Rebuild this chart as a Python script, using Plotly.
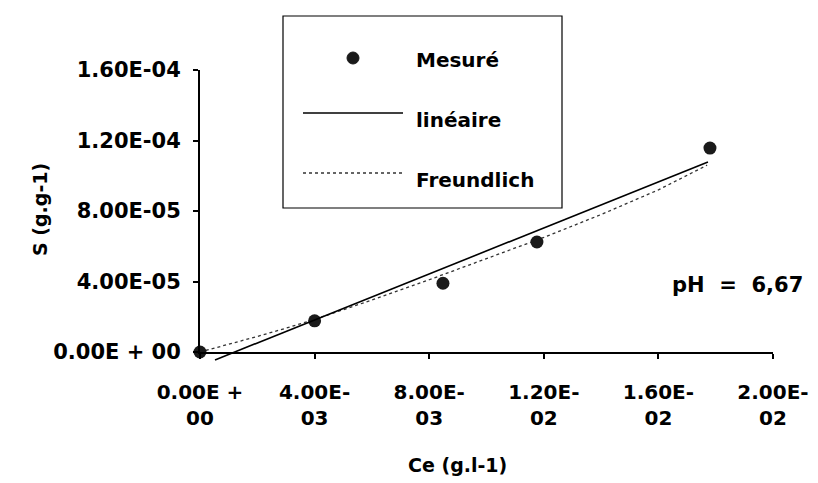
import plotly.graph_objects as go

# Points mesurés
ce_mesure = [0.0, 0.0040, 0.00848, 0.01176, 0.0178]
s_mesure = [0.0, 1.77e-05, 3.9e-05, 6.24e-05, 1.157e-04]

# Droite linéaire (extrémités)
ce_lin = [0.000524, 0.01773]
s_lin = [-4.5e-06, 1.078e-04]

# Courbe de Freundlich
ce_freund = [0.0, 0.001, 0.002, 0.003, 0.004, 0.006, 0.008, 0.010, 0.012, 0.014, 0.016, 0.0177]
s_freund = [0.0, 4.2e-06, 8.8e-06, 1.35e-05, 1.85e-05, 2.95e-05, 4.1e-05, 5.3e-05, 6.5e-05, 7.8e-05, 9.2e-05, 1.06e-04]

x_ticks = [0.0, 0.004, 0.008, 0.012, 0.016, 0.020]
x_labels = ["0.00E +<br>00", "4.00E-<br>03", "8.00E-<br>03", "1.20E-<br>02", "1.60E-<br>02", "2.00E-<br>02"]
y_ticks = [0.0, 4e-05, 8e-05, 1.2e-04, 1.6e-04]
y_labels = ["0.00E + 00", "4.00E-05", "8.00E-05", "1.20E-04", "1.60E-04"]

W, H = 818, 483
OFF = 8  # marge du <body> de la page
# zone de tracé en coordonnées écran
SX0, SX1, SY0, SY1 = 200, 773, 70, 352
EXTRA = 15  # pixels sous l'axe des x pour la droite linéaire
L, T = SX0 - OFF, SY0 - OFF
R = W - (SX1 - OFF)
B = H - (SY1 + EXTRA - OFF)
PW, PH = W - L - R, H - T - B
Y_MAX = 1.6e-04

FONT = "DejaVu Sans"


def px(x):
    return (x - SX0) / PW


def py(y):
    return (SY1 + EXTRA - y) / PH


fig = go.Figure()

fig.add_trace(go.Scatter(
    x=ce_lin, y=s_lin, xaxis="x", yaxis="y2",
    mode="lines", line=dict(color="black", width=1.6), name="linéaire"
))
fig.add_trace(go.Scatter(
    x=ce_freund, y=s_freund, mode="lines",
    line=dict(color="#333", width=1.3, dash="dot"), name="Freundlich"
))
fig.add_trace(go.Scatter(
    x=ce_mesure, y=s_mesure, mode="markers", cliponaxis=False,
    marker=dict(color="#1a1a1a", size=13), name="Mesuré"
))

fig.update_layout(
    template="none",
    width=W, height=H,
    margin=dict(l=L, r=R, t=T, b=B),
    paper_bgcolor="white", plot_bgcolor="rgba(0,0,0,0)",
    showlegend=False,
    xaxis=dict(
        range=[0, 0.02], tickvals=x_ticks, ticktext=x_labels, automargin=False,
        showgrid=False, zeroline=False, showline=True, linecolor="black", linewidth=2,
        ticks="outside", ticklen=5, tickwidth=2, tickcolor="black",
        tickfont=dict(family=FONT, size=20, color="black", weight="bold"),
        ticklabelstandoff=16, anchor="y"
    ),
    yaxis=dict(
        range=[0, Y_MAX], domain=[EXTRA / PH, 1], tickvals=y_ticks, ticktext=y_labels,
        automargin=False,
        showgrid=False, zeroline=False, showline=True, linecolor="black", linewidth=2,
        ticks="outside", ticklen=5, tickwidth=2, tickcolor="black",
        tickfont=dict(family=FONT, size=21, color="black", weight="bold"),
        ticklabelstandoff=8
    ),
    yaxis2=dict(
        range=[-Y_MAX * EXTRA / (PH - EXTRA), Y_MAX], domain=[0, 1],
        visible=False, anchor="x", automargin=False
    ),
)

# Légende dessinée dans un cadre
fig.add_shape(type="rect", xref="paper", yref="paper",
              x0=px(283), x1=px(562), y0=py(208), y1=py(16),
              line=dict(color="black", width=1.2), fillcolor="white", layer="above")
fig.add_shape(type="circle", xref="paper", yref="paper",
              x0=px(347), x1=px(359), y0=py(64), y1=py(52),
              line=dict(color="#1a1a1a", width=1), fillcolor="#1a1a1a", layer="above")
fig.add_shape(type="line", xref="paper", yref="paper",
              x0=px(303), x1=px(403), y0=py(113), y1=py(113),
              line=dict(color="black", width=1.6), layer="above")
fig.add_shape(type="line", xref="paper", yref="paper",
              x0=px(303), x1=px(403), y0=py(173), y1=py(173),
              line=dict(color="#333", width=1.3, dash="dot"), layer="above")

legend_text = ["Mesuré", "linéaire", "Freundlich"]
legend_y = [60, 120, 180]
for txt, yy in zip(legend_text, legend_y):
    fig.add_annotation(text="<b>%s</b>" % txt, xref="paper", yref="paper",
                       x=px(414), y=py(yy), xanchor="left", yanchor="middle",
                       showarrow=False, font=dict(family=FONT, size=20, color="black"))

fig.add_annotation(text="<b>pH\u00a0 = \u00a06,67</b>", xref="paper", yref="paper",
                   x=px(737), y=py(285), xanchor="center", yanchor="middle",
                   showarrow=False, font=dict(family=FONT, size=21, color="black"))

fig.add_annotation(text="<b>Ce (g.l-1)</b>", xref="paper", yref="paper",
                   x=px(457), y=py(465), xanchor="center", yanchor="middle",
                   showarrow=False, font=dict(family=FONT, size=19, color="black"))
fig.add_annotation(text="<b>S (g.g-1)</b>", xref="paper", yref="paper",
                   x=px(40), y=py(210), xanchor="center", yanchor="middle", textangle=-90,
                   showarrow=False, font=dict(family=FONT, size=19, color="black"))

fig.write_html("out.html")
